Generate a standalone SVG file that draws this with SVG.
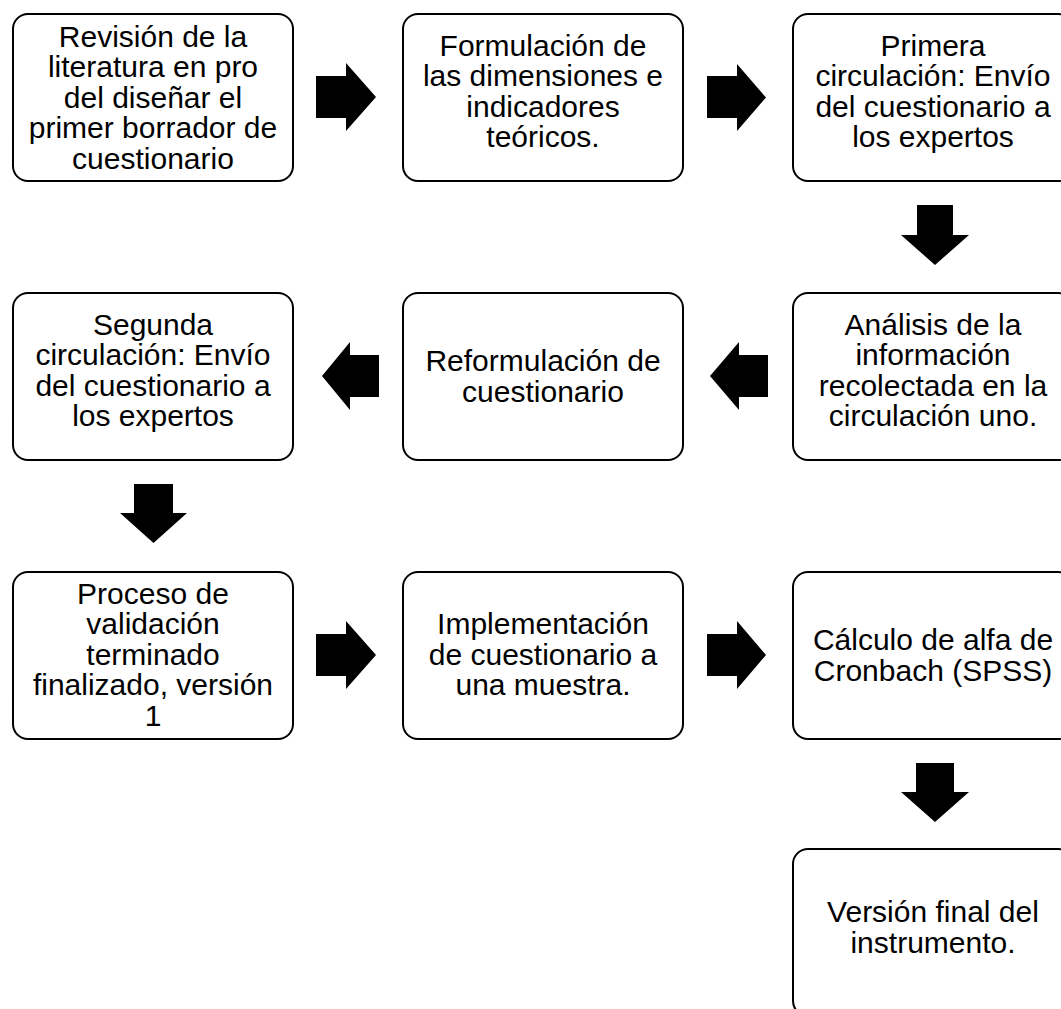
<svg xmlns="http://www.w3.org/2000/svg" width="1061" height="1009" viewBox="0 0 1061 1009">
<style>
.box{fill:#fff;stroke:#000;stroke-width:2}
.t{font-family:"Liberation Sans",Arial,sans-serif;font-size:30px;fill:#000;text-anchor:middle}
.arr{fill:#000}
</style>
<rect width="1061" height="1009" fill="#fff"/>
<g id="n1"><rect class="box" x="13" y="14" width="280" height="167" rx="15"/>
<text class="t"><tspan x="153" y="46.5">Revisión de la</tspan><tspan x="153" y="77">literatura en pro</tspan><tspan x="153" y="107.5">del diseñar el</tspan><tspan x="153" y="138">primer borrador de</tspan><tspan x="153" y="168.5">cuestionario</tspan></text></g>
<g id="n2"><rect class="box" x="403" y="14" width="280" height="167" rx="15"/>
<text class="t"><tspan x="543" y="55.75">Formulación de</tspan><tspan x="543" y="86.25">las dimensiones e</tspan><tspan x="543" y="116.75">indicadores</tspan><tspan x="543" y="147.25">teóricos.</tspan></text></g>
<g id="n3"><rect class="box" x="793" y="14" width="280" height="167" rx="15"/>
<text class="t"><tspan x="933" y="55.75">Primera</tspan><tspan x="933" y="86.25">circulación: Envío</tspan><tspan x="933" y="116.75">del cuestionario a</tspan><tspan x="933" y="147.25">los expertos</tspan></text></g>
<g id="n4"><rect class="box" x="793" y="293" width="280" height="167" rx="15"/>
<text class="t"><tspan x="933" y="334.75">Análisis de la</tspan><tspan x="933" y="365.25">información</tspan><tspan x="933" y="395.75">recolectada en la</tspan><tspan x="933" y="426.25">circulación uno.</tspan></text></g>
<g id="n5"><rect class="box" x="403" y="293" width="280" height="167" rx="15"/>
<text class="t"><tspan x="543" y="371">Reformulación de</tspan><tspan x="543" y="401.5">cuestionario</tspan></text></g>
<g id="n6"><rect class="box" x="13" y="293" width="280" height="167" rx="15"/>
<text class="t"><tspan x="153" y="334.75">Segunda</tspan><tspan x="153" y="365.25">circulación: Envío</tspan><tspan x="153" y="395.75">del cuestionario a</tspan><tspan x="153" y="426.25">los expertos</tspan></text></g>
<g id="n7"><rect class="box" x="13" y="572" width="280" height="167" rx="15"/>
<text class="t"><tspan x="153" y="603.5">Proceso de</tspan><tspan x="153" y="634">validación</tspan><tspan x="153" y="664.5">terminado</tspan><tspan x="153" y="695">finalizado, versión</tspan><tspan x="153" y="725.5">1</tspan></text></g>
<g id="n8"><rect class="box" x="403" y="572" width="280" height="167" rx="15"/>
<text class="t"><tspan x="543" y="634">Implementación</tspan><tspan x="543" y="664.5">de cuestionario a</tspan><tspan x="543" y="695">una muestra.</tspan></text></g>
<g id="n9"><rect class="box" x="793" y="572" width="280" height="167" rx="15"/>
<text class="t"><tspan x="933" y="650">Cálculo de alfa de</tspan><tspan x="933" y="680.5">Cronbach (SPSS)</tspan></text></g>
<g id="n10"><rect class="box" x="793" y="849" width="280" height="167" rx="15"/>
<text class="t"><tspan x="933" y="922">Versión final del</tspan><tspan x="933" y="952.5">instrumento.</tspan></text></g>
<g id="connectors">
<polygon class="arr" points="316,76 346,76 346,63 376,97 346,131 346,118 316,118"/>
<polygon class="arr" points="707,76 737,76 737,64 766,97.5 737,131 737,118 707,118"/>
<polygon class="arr" points="917,205 953,205 953,235 969,235 935,265 901,235 917,235"/>
<polygon class="arr" points="768,355 739,355 739,342 710,376 739,410 739,397 768,397"/>
<polygon class="arr" points="379,355 350,355 350,342 322,376 350,410 350,397 379,397"/>
<polygon class="arr" points="134,484 173,484 173,513 187,513 153.5,543 120,513 134,513"/>
<polygon class="arr" points="316,634 346,634 346,621 376,655 346,689 346,676 316,676"/>
<polygon class="arr" points="707,634 737,634 737,621 766,655 737,689 737,676 707,676"/>
<polygon class="arr" points="916,763 954,763 954,792 969,792 935,822 901,792 916,792"/>
</g>
</svg>
